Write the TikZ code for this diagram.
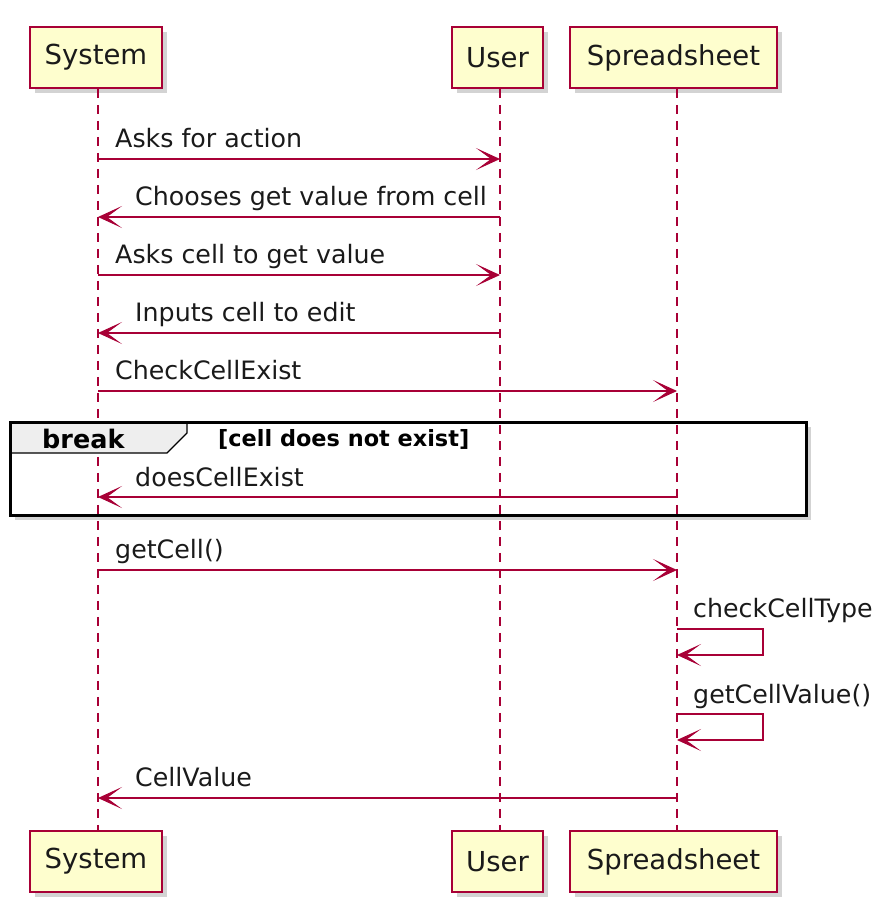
\documentclass[tikz,border=0pt]{standalone}
\usepackage{fontspec}
\setmainfont{DejaVu Sans}
\usetikzlibrary{arrows.meta,shadows}
\definecolor{umlred}{HTML}{A80036}
\definecolor{umlfill}{HTML}{FEFECE}
\definecolor{umltext}{HTML}{1A1A1A}
\definecolor{tabfill}{HTML}{EEEEEE}
\tikzset{
  part/.style={draw=umlred, fill=umlfill, line width=1.8pt, minimum height=61pt,
    inner sep=0pt, text=umltext, font=\fontsize{27.5}{33}\selectfont,
    drop shadow={shadow xshift=5pt, shadow yshift=-5pt, opacity=0.35, fill=gray}},
  life/.style={draw=umlred, line width=1.3pt, dash pattern=on 9pt off 7pt},
  tipshape/.tip={Stealth[length=24pt 0 0,width=22pt 0 0,inset=15pt 0 0,line width=1pt]},
  msg/.style={draw=umlred, line width=2pt, -tipshape},
  lbl/.style={anchor=base west, inner sep=0pt, text=umltext, font=\fontsize{25.3}{30}\selectfont},
  guard/.style={anchor=base west, inner sep=0pt, text=black, font=\bfseries\fontsize{22.4}{27}\selectfont},
  kw/.style={anchor=base west, inner sep=0pt, text=black, font=\bfseries\fontsize{25.5}{30}\selectfont},
}
\begin{document}
\begin{tikzpicture}[x=1pt,y=-1pt]
\useasboundingbox (0,0) rectangle (894,922);
% lifeline x positions
\coordinate (sysL) at (98,0);
\coordinate (usrL) at (500,0);
\coordinate (ssL) at (677,0);
% participants
\node[part, minimum width=132pt] (sysT) at (96,57.5) {System};
\node[part, minimum width=91pt] (usrT) at (497.5,57.5) {User};
\node[part, minimum width=207pt] (ssT) at (673.5,57.5) {Spreadsheet};
\node[part, minimum width=132pt] (sysB) at (96,861.5) {System};
\node[part, minimum width=91pt] (usrB) at (497.5,861.5) {User};
\node[part, minimum width=207pt] (ssB) at (673.5,861.5) {Spreadsheet};
% break frame (drawn before lifelines so they cross it)
\fill[gray, opacity=0.35] (15,427) rectangle (811,520);
\fill[white] (10,422) rectangle (806,515);
% lifelines
\draw[life] (sysT.south -| sysL) -- (sysB.north -| sysL);
\draw[life] (usrT.south -| usrL) -- (usrB.north -| usrL);
\draw[life] (ssT.south -| ssL) -- (ssB.north -| ssL);
% frame outline and tab
\draw[black, line width=1.2pt, fill=tabfill] (10,422) -- (187,422) -- (187,433) -- (167,453) -- (10,453) -- cycle;
\draw[black, line width=3pt] (10,422) rectangle (806,515);
\node[kw] (brk) at (42,448) {break};
\node[guard] (grd) at (218,446) {[cell does not exist]};
% message endpoints
\path (98,159) coordinate (m1a) (500,159) coordinate (m1b)
      (500,217) coordinate (m2a) (98,217) coordinate (m2b)
      (98,275) coordinate (m3a) (500,275) coordinate (m3b)
      (500,333) coordinate (m4a) (98,333) coordinate (m4b)
      (98,391) coordinate (m5a) (677,391) coordinate (m5b)
      (677,497) coordinate (m6a) (98,497) coordinate (m6b)
      (98,570) coordinate (m7a) (677,570) coordinate (m7b)
      (677,629) coordinate (m8a) (763,629) coordinate (m8c) (763,655) coordinate (m8d) (677,655) coordinate (m8b)
      (677,714) coordinate (m9a) (763,714) coordinate (m9c) (763,740) coordinate (m9d) (677,740) coordinate (m9b)
      (677,798) coordinate (m10a) (98,798) coordinate (m10b);
\draw[msg] (m1a) -- (m1b);
\node[lbl] (t1) at (115,147) {Asks for action};
\draw[msg] (m2a) -- (m2b);
\node[lbl] (t2) at (135,205) {Chooses get value from cell};
\draw[msg] (m3a) -- (m3b);
\node[lbl] (t3) at (115,263) {Asks cell to get value};
\draw[msg] (m4a) -- (m4b);
\node[lbl] (t4) at (135,321) {Inputs cell to edit};
\draw[msg] (m5a) -- (m5b);
\node[lbl] (t5) at (115,379) {CheckCellExist};
\draw[msg] (m6a) -- (m6b);
\node[lbl] (t6) at (135,486) {doesCellExist};
\draw[msg] (m7a) -- (m7b);
\node[lbl] (t7) at (115,558) {getCell()};
\draw[msg] (m8a) -- (m8c) -- (m8d) -- (m8b);
\node[lbl] (t8) at (693,617) {checkCellType};
\draw[msg] (m9a) -- (m9c) -- (m9d) -- (m9b);
\node[lbl] (t9) at (693,703) {getCellValue()};
\draw[msg] (m10a) -- (m10b);
\node[lbl] (t10) at (135,786) {CellValue};
\end{tikzpicture}
\end{document}
